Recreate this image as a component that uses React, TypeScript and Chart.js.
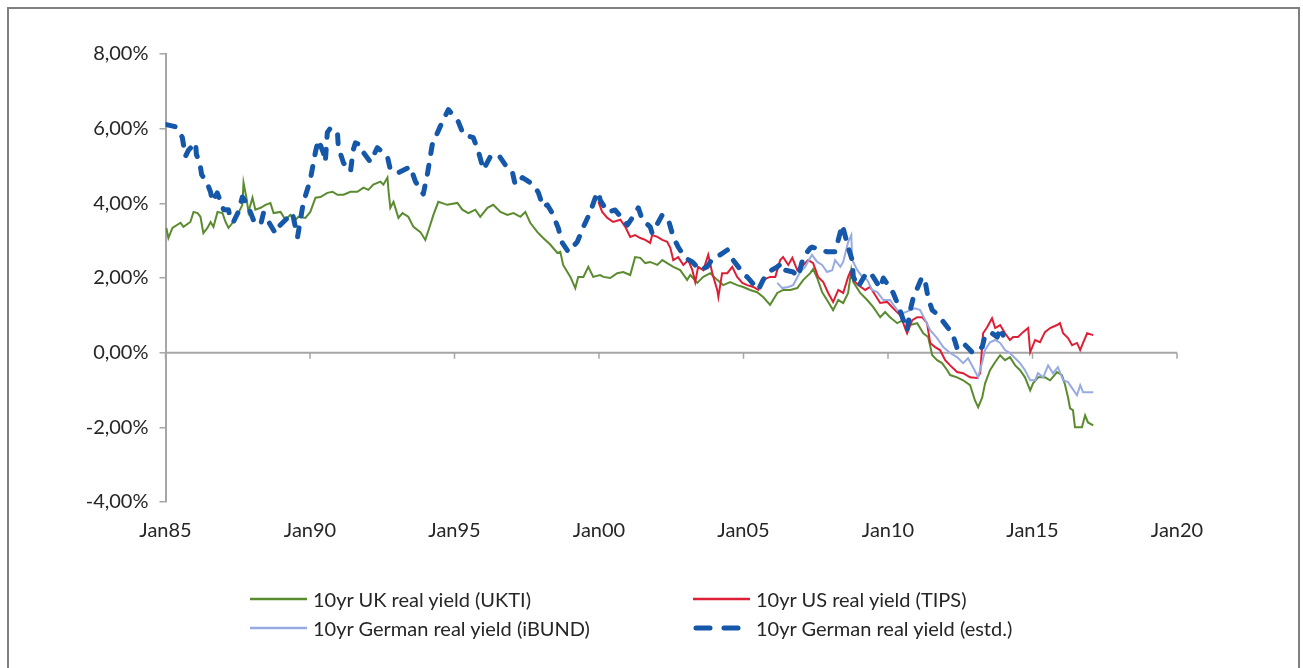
import React, { useEffect, useRef } from 'react';
import { Chart, registerables } from 'chart.js';

Chart.register(...registerables);

const FONT = 'Lato, "Source Sans Pro", "Noto Sans", sans-serif';

// x tick labels (every 5 years)
const xTickYears = [1985, 1990, 1995, 2000, 2005, 2010, 2015, 2020];
const xTickLabels = ['Jan85', 'Jan90', 'Jan95', 'Jan00', 'Jan05', 'Jan10', 'Jan15', 'Jan20'];

// 10yr UK real yield (UKTI) [year, %]
const ukti: [number, number][] = [
  [1985.03, 3.34], [1985.10, 3.07], [1985.24, 3.34], [1985.52, 3.48], [1985.62, 3.37], [1985.86, 3.5],
  [1985.97, 3.77], [1986.11, 3.74], [1986.21, 3.64], [1986.31, 3.2], [1986.45, 3.34], [1986.56, 3.5],
  [1986.66, 3.37], [1986.80, 3.77], [1986.97, 3.74], [1987.08, 3.5], [1987.18, 3.34], [1987.32, 3.48],
  [1987.49, 3.69], [1987.66, 3.96], [1987.70, 4.55], [1987.80, 4.15], [1987.87, 3.77], [1988.01, 4.15],
  [1988.11, 3.83], [1988.29, 3.88], [1988.46, 3.96], [1988.63, 4.01], [1988.74, 3.74], [1988.98, 3.77],
  [1989.15, 3.56], [1989.32, 3.69], [1989.50, 3.56], [1989.60, 3.64], [1989.84, 3.61], [1990.01, 3.77],
  [1990.19, 4.15], [1990.36, 4.17], [1990.60, 4.28], [1990.78, 4.31], [1990.95, 4.23], [1991.16, 4.23],
  [1991.40, 4.31], [1991.64, 4.31], [1991.85, 4.42], [1992.02, 4.36], [1992.19, 4.5], [1992.44, 4.58],
  [1992.54, 4.5], [1992.68, 4.69], [1992.72, 4.31], [1992.78, 3.88], [1992.89, 4.04], [1993.06, 3.61],
  [1993.20, 3.74], [1993.40, 3.64], [1993.58, 3.37], [1993.82, 3.23], [1993.99, 3.02], [1994.16, 3.42],
  [1994.27, 3.69], [1994.44, 4.04], [1994.75, 3.96], [1995.10, 4.01], [1995.27, 3.83], [1995.48, 3.74],
  [1995.72, 3.83], [1995.89, 3.64], [1996.14, 3.88], [1996.34, 3.96], [1996.59, 3.77], [1996.83, 3.69],
  [1997.04, 3.74], [1997.28, 3.64], [1997.45, 3.77], [1997.62, 3.48], [1997.87, 3.23], [1998.07, 3.07],
  [1998.32, 2.89], [1998.56, 2.67], [1998.66, 2.7], [1998.76, 2.35], [1999.01, 2.03], [1999.18, 1.73],
  [1999.28, 2.03], [1999.46, 2.03], [1999.63, 2.3], [1999.80, 2.03], [2000.04, 2.08], [2000.15, 2.03],
  [2000.39, 2.0], [2000.63, 2.13], [2000.84, 2.16], [2001.08, 2.08], [2001.25, 2.56], [2001.43, 2.54],
  [2001.60, 2.4], [2001.77, 2.43], [2002.02, 2.35], [2002.19, 2.48], [2002.36, 2.4], [2002.57, 2.3],
  [2002.81, 2.21], [2003.05, 1.95], [2003.16, 2.08], [2003.40, 1.87], [2003.61, 2.03], [2003.85, 2.13],
  [2004.09, 1.95], [2004.30, 1.81], [2004.54, 1.89], [2004.78, 1.81], [2004.99, 1.76], [2005.23, 1.68],
  [2005.47, 1.62], [2005.68, 1.49], [2005.92, 1.28], [2006.17, 1.6], [2006.37, 1.68], [2006.62, 1.68],
  [2006.86, 1.73], [2007.07, 1.95], [2007.31, 2.13], [2007.41, 2.24], [2007.55, 2.0], [2007.72, 1.62],
  [2007.89, 1.41], [2008.10, 1.14], [2008.28, 1.41], [2008.45, 1.33], [2008.62, 1.6], [2008.73, 2.21],
  [2008.80, 1.89], [2009.04, 1.6], [2009.28, 1.41], [2009.49, 1.22], [2009.73, 0.95], [2009.90, 1.09],
  [2010.07, 0.95], [2010.32, 0.79], [2010.52, 0.87], [2010.77, 0.74], [2011.01, 0.79], [2011.22, 0.52],
  [2011.39, 0.42], [2011.53, -0.07], [2011.70, -0.2], [2011.87, -0.28], [2012.05, -0.47], [2012.15, -0.6],
  [2012.39, -0.66], [2012.60, -0.74], [2012.84, -0.87], [2013.01, -1.28], [2013.12, -1.46], [2013.26, -1.2],
  [2013.36, -0.82], [2013.53, -0.47], [2013.71, -0.25], [2013.88, -0.07], [2014.05, -0.2], [2014.22, -0.12],
  [2014.40, -0.34], [2014.57, -0.47], [2014.74, -0.66], [2014.92, -1.01], [2015.02, -0.82], [2015.19, -0.66],
  [2015.43, -0.66], [2015.61, -0.74], [2015.85, -0.52], [2016.02, -0.6], [2016.13, -0.87], [2016.23, -1.2],
  [2016.30, -1.49], [2016.40, -1.54], [2016.47, -2.0], [2016.71, -2.0], [2016.82, -1.68], [2016.92, -1.87],
  [2017.10, -1.95],
];

// 10yr US real yield (TIPS)
const tips: [number, number][] = [
  [1999.98, 4.04], [2000.11, 3.77], [2000.29, 3.61], [2000.49, 3.5], [2000.74, 3.56], [2000.91, 3.37],
  [2001.08, 3.1], [2001.25, 3.15], [2001.43, 3.07], [2001.60, 3.02], [2001.77, 2.94], [2001.84, 3.15],
  [2002.02, 3.1], [2002.19, 3.02], [2002.36, 2.97], [2002.47, 2.8], [2002.57, 2.48], [2002.74, 2.56],
  [2002.92, 2.35], [2003.09, 2.48], [2003.23, 2.21], [2003.33, 1.89], [2003.43, 2.3], [2003.61, 2.21],
  [2003.78, 2.62], [2003.92, 2.13], [2004.09, 1.68], [2004.13, 1.49], [2004.26, 2.13], [2004.44, 2.13],
  [2004.61, 2.3], [2004.78, 2.03], [2004.96, 1.87], [2005.13, 1.81], [2005.34, 1.76], [2005.51, 1.68],
  [2005.68, 1.95], [2005.92, 2.03], [2006.10, 2.03], [2006.27, 2.48], [2006.37, 2.56], [2006.55, 2.35],
  [2006.69, 2.54], [2006.86, 2.21], [2007.07, 2.35], [2007.24, 2.48], [2007.41, 2.4], [2007.58, 2.03],
  [2007.76, 1.89], [2007.93, 1.6], [2008.10, 1.36], [2008.28, 1.68], [2008.45, 1.6], [2008.62, 2.03],
  [2008.69, 2.16], [2008.80, 1.95], [2008.97, 1.81], [2009.21, 1.68], [2009.38, 1.76], [2009.56, 1.54],
  [2009.73, 1.33], [2009.97, 1.36], [2010.18, 1.19], [2010.42, 1.01], [2010.66, 0.52], [2010.84, 0.87],
  [2011.01, 0.95], [2011.18, 0.95], [2011.35, 0.79], [2011.46, 0.26], [2011.63, 0.15], [2011.80, 0.07],
  [2011.98, -0.2], [2012.15, -0.34], [2012.39, -0.52], [2012.60, -0.55], [2012.84, -0.66], [2013.08, -0.68],
  [2013.19, -0.55], [2013.29, 0.52], [2013.43, 0.68], [2013.60, 0.92], [2013.71, 0.66], [2013.88, 0.74],
  [2014.05, 0.52], [2014.22, 0.34], [2014.33, 0.42], [2014.50, 0.42], [2014.67, 0.55], [2014.85, 0.66],
  [2014.92, 0.01], [2015.09, 0.34], [2015.26, 0.28], [2015.43, 0.55], [2015.61, 0.66], [2015.85, 0.74],
  [2015.95, 0.79], [2016.06, 0.52], [2016.23, 0.39], [2016.37, 0.2], [2016.54, 0.26], [2016.65, 0.07],
  [2016.75, 0.26], [2016.89, 0.52], [2017.10, 0.47],
];

// 10yr German real yield (iBUND)
const ibund: [number, number][] = [
  [2006.17, 1.87], [2006.34, 1.73], [2006.55, 1.76], [2006.72, 1.81], [2006.96, 2.16], [2007.13, 2.3],
  [2007.37, 2.62], [2007.55, 2.43], [2007.72, 2.35], [2007.89, 2.16], [2008.07, 2.21], [2008.17, 2.48],
  [2008.35, 2.3], [2008.45, 2.43], [2008.62, 2.96], [2008.73, 3.15], [2008.76, 2.48], [2008.94, 2.21],
  [2009.11, 2.03], [2009.28, 1.95], [2009.45, 1.68], [2009.63, 1.62], [2009.84, 1.41], [2010.07, 1.41],
  [2010.32, 1.14], [2010.52, 1.06], [2010.77, 1.14], [2010.94, 1.19], [2011.11, 1.14], [2011.29, 0.87],
  [2011.46, 0.6], [2011.70, 0.39], [2011.91, 0.15], [2012.15, -0.01], [2012.39, -0.12], [2012.60, -0.28],
  [2012.77, -0.15], [2012.94, -0.39], [2013.12, -0.66], [2013.26, -0.25], [2013.36, 0.07], [2013.53, 0.28],
  [2013.71, 0.34], [2013.88, 0.26], [2014.05, 0.07], [2014.22, -0.01], [2014.40, -0.15], [2014.57, -0.28],
  [2014.74, -0.47], [2014.92, -0.74], [2015.09, -0.74], [2015.19, -0.55], [2015.37, -0.66], [2015.54, -0.34],
  [2015.71, -0.55], [2015.88, -0.39], [2016.06, -0.74], [2016.23, -0.79], [2016.37, -0.95], [2016.54, -1.14],
  [2016.65, -0.87], [2016.75, -1.06], [2017.10, -1.06],
];

// 10yr German real yield (estd.)
const germanEst: [number, number][] = [
  [1985.03, 6.11], [1985.35, 6.05], [1985.58, 5.77], [1985.69, 5.26], [1985.80, 5.43], [1986.04, 5.62],
  [1986.07, 5.3], [1986.18, 5.12], [1986.25, 4.77], [1986.44, 4.55], [1986.56, 4.3], [1986.62, 4.05],
  [1986.79, 4.28], [1987.01, 3.83], [1987.18, 3.83], [1987.25, 3.56], [1987.35, 3.5], [1987.52, 3.77],
  [1987.66, 4.17], [1987.84, 3.96], [1988.04, 3.56], [1988.29, 3.42], [1988.39, 3.74], [1988.80, 3.2],
  [1988.87, 3.34], [1989.22, 3.61], [1989.39, 3.74], [1989.57, 3.1], [1989.77, 4.02], [1990.01, 4.63],
  [1990.19, 5.38], [1990.29, 5.7], [1990.46, 5.36], [1990.53, 5.11], [1990.60, 5.9], [1990.71, 6.02],
  [1990.95, 5.9], [1990.98, 5.5], [1991.16, 5.08], [1991.40, 4.85], [1991.50, 5.44], [1991.57, 5.62],
  [1991.74, 5.57], [1991.85, 5.36], [1992.09, 5.11], [1992.33, 5.49], [1992.68, 5.25], [1992.78, 4.9],
  [1993.06, 4.82], [1993.47, 4.98], [1993.65, 4.58], [1993.92, 4.25], [1994.06, 4.77], [1994.23, 5.57],
  [1994.41, 5.89], [1994.61, 6.24], [1994.79, 6.51], [1995.13, 6.19], [1995.31, 5.84], [1995.65, 5.76],
  [1995.83, 5.38], [1996.00, 4.9], [1996.24, 5.25], [1996.52, 5.3], [1996.76, 5.03], [1997.00, 4.85],
  [1997.10, 4.5], [1997.35, 4.69], [1997.73, 4.5], [1997.90, 4.29], [1998.07, 3.9], [1998.21, 3.96],
  [1998.38, 3.74], [1998.59, 3.34], [1998.73, 2.94], [1998.94, 2.7], [1999.25, 2.97], [1999.46, 3.37],
  [1999.70, 3.77], [1999.87, 4.15], [1999.98, 4.3], [2000.04, 4.09], [2000.29, 3.77], [2000.56, 3.82],
  [2000.98, 3.42], [2001.15, 3.61], [2001.36, 3.88], [2001.50, 3.56], [2001.77, 3.37], [2001.84, 3.2],
  [2002.19, 3.69], [2002.40, 3.56], [2002.57, 3.1], [2002.74, 2.83], [2002.98, 2.54], [2003.23, 2.43],
  [2003.50, 2.21], [2003.74, 2.3], [2003.95, 2.54], [2004.19, 2.62], [2004.44, 2.75], [2004.64, 2.48],
  [2004.99, 2.13], [2005.16, 2.0], [2005.51, 1.68], [2005.68, 1.95], [2005.86, 2.16], [2006.17, 2.3],
  [2006.34, 2.4], [2006.44, 2.21], [2006.72, 2.16], [2006.89, 2.03], [2007.07, 2.56], [2007.31, 2.8],
  [2007.37, 2.83], [2007.89, 2.7], [2008.17, 2.7], [2008.35, 3.23], [2008.42, 3.42], [2008.62, 2.83],
  [2008.76, 2.48], [2008.80, 2.03], [2008.97, 1.76], [2009.21, 2.08], [2009.38, 2.16], [2009.73, 1.73],
  [2009.84, 2.0], [2010.18, 1.6], [2010.35, 1.28], [2010.59, 0.74], [2010.66, 0.6], [2010.77, 1.14],
  [2010.87, 1.46], [2011.18, 2.03], [2011.29, 1.89], [2011.39, 1.46], [2011.53, 1.14], [2011.73, 1.01],
  [2011.87, 0.87], [2012.22, 0.52], [2012.32, 0.3], [2012.39, 0.12], [2012.60, 0.26], [2012.84, 0.07],
  [2012.94, -0.01], [2013.12, 0.07], [2013.26, 0.15], [2013.36, 0.47], [2013.60, 0.52], [2013.78, 0.42],
  [2013.88, 0.66], [2013.98, 0.47],
];

const legendItems = [
  { label: '10yr UK real yield (UKTI)', color: '#5b8b2f', width: 2.5, dashed: false },
  { label: '10yr US real yield (TIPS)', color: '#dd1f35', width: 2.5, dashed: false },
  { label: '10yr German real yield (iBUND)', color: '#98aae2', width: 2.5, dashed: false },
  { label: '10yr German real yield (estd.)', color: '#1557a8', width: 5, dashed: true },
];

const toXY = (arr: [number, number][]) => arr.map(([x, y]) => ({ x, y }));

const zeroAxisPlugin = {
  id: 'zeroAxis',
  beforeDatasetsDraw(chart: any) {
    const { ctx, chartArea, scales } = chart;
    const x = scales.x;
    const y = scales.y;
    const y0 = y.getPixelForValue(0);
    ctx.save();
    ctx.strokeStyle = '#a6a6a6';
    ctx.lineWidth = 2;
    ctx.beginPath();
    ctx.moveTo(chartArea.left, y0);
    ctx.lineTo(chartArea.right, y0);
    ctx.stroke();
    ctx.lineWidth = 1.5;
    ctx.beginPath();
    xTickYears.forEach((v) => {
      const px = x.getPixelForValue(v);
      ctx.moveTo(px, y0);
      ctx.lineTo(px, y0 + 6);
    });
    ctx.stroke();
    ctx.restore();
  },
};

export default function App() {
  const canvasRef = useRef<HTMLCanvasElement | null>(null);

  useEffect(() => {
    const canvas = canvasRef.current;
    if (!canvas) return;
    const chart = new Chart(canvas, {
      type: 'line',
      data: {
        datasets: [
          {
            label: legendItems[0].label,
            data: toXY(ukti),
            borderColor: legendItems[0].color,
            borderWidth: 2,
            pointRadius: 0,
            tension: 0,
            order: 3,
          },
          {
            label: legendItems[1].label,
            data: toXY(tips),
            borderColor: legendItems[1].color,
            borderWidth: 2,
            pointRadius: 0,
            tension: 0,
            order: 2,
          },
          {
            label: legendItems[2].label,
            data: toXY(ibund),
            borderColor: legendItems[2].color,
            borderWidth: 2,
            pointRadius: 0,
            tension: 0,
            order: 1,
          },
          {
            label: legendItems[3].label,
            data: toXY(germanEst),
            borderColor: legendItems[3].color,
            borderWidth: 5,
            borderDash: [9, 12],
            borderCapStyle: 'round',
            borderJoinStyle: 'round',
            pointRadius: 0,
            tension: 0,
            order: 0,
          },
        ],
      },
      options: {
        animation: false,
        responsive: false,
        devicePixelRatio: 1,
        layout: { padding: { top: 54, left: 0, right: 126, bottom: 96 } },
        plugins: { legend: { display: false }, tooltip: { enabled: false } },
        scales: {
          x: {
            type: 'linear',
            min: 1985,
            max: 2020,
            afterFit: (scale: any) => {
              scale.height = 70;
            },
            afterBuildTicks: (scale: any) => {
              scale.ticks = xTickYears.map((v) => ({ value: v }));
            },
            ticks: {
              autoSkip: false,
              maxRotation: 0,
              padding: 9,
              color: '#262626',
              font: { family: FONT, size: 20 },
              callback: (v: any) => {
                const i = xTickYears.indexOf(Number(v));
                return i >= 0 ? xTickLabels[i] : '';
              },
            },
            grid: { display: false },
            border: { display: false },
          },
          y: {
            min: -4,
            max: 8,
            afterFit: (scale: any) => {
              scale.width = 165.5;
            },
            ticks: {
              stepSize: 2,
              padding: 11,
              color: '#262626',
              font: { family: FONT, size: 20 },
              callback: (v: any) => Number(v).toFixed(2).replace('.', ',') + '%',
            },
            grid: {
              drawOnChartArea: false,
              drawTicks: true,
              tickLength: 6,
              color: '#a6a6a6',
              lineWidth: 1.5,
            },
            border: { display: true, color: '#a6a6a6', width: 2 },
          },
        },
      },
      plugins: [zeroAxisPlugin],
    });
    return () => chart.destroy();
  }, []);

  const rows = [
    { top: 599, items: [legendItems[0], legendItems[1]] },
    { top: 628, items: [legendItems[2], legendItems[3]] },
  ];
  const colX = [250, 693];

  return (
    <div style={{ position: 'fixed', left: 0, top: 0, width: 1303, height: 668, background: '#fff', overflow: 'hidden' }}>
      <div
        style={{
          position: 'absolute',
          left: 7,
          top: 7,
          width: 1293,
          height: 720,
          border: '2px solid #808080',
          boxSizing: 'border-box',
        }}
      />
      <canvas ref={canvasRef} width={1303} height={668} style={{ position: 'absolute', left: 0, top: 0, width: 1303, height: 668 }} />
      {rows.map((row, ri) =>
        row.items.map((it, ci) => (
          <div
            key={`${ri}-${ci}`}
            style={{
              position: 'absolute',
              left: colX[ci],
              top: row.top - 15,
              height: 30,
              display: 'flex',
              alignItems: 'center',
              fontFamily: FONT,
              fontSize: 20,
              color: '#262626',
              whiteSpace: 'nowrap',
            }}
          >
            <svg width={57} height={10} style={{ marginRight: 6, display: 'block' }}>
              <line
                x1={it.dashed ? 3 : 0}
                y1={5}
                x2={it.dashed ? 54 : 57}
                y2={5}
                stroke={it.color}
                strokeWidth={it.width}
                strokeDasharray={it.dashed ? '14 14' : undefined}
                strokeLinecap={it.dashed ? 'round' : 'butt'}
              />
            </svg>
            <span>{it.label}</span>
          </div>
        ))
      )}
    </div>
  );
}
